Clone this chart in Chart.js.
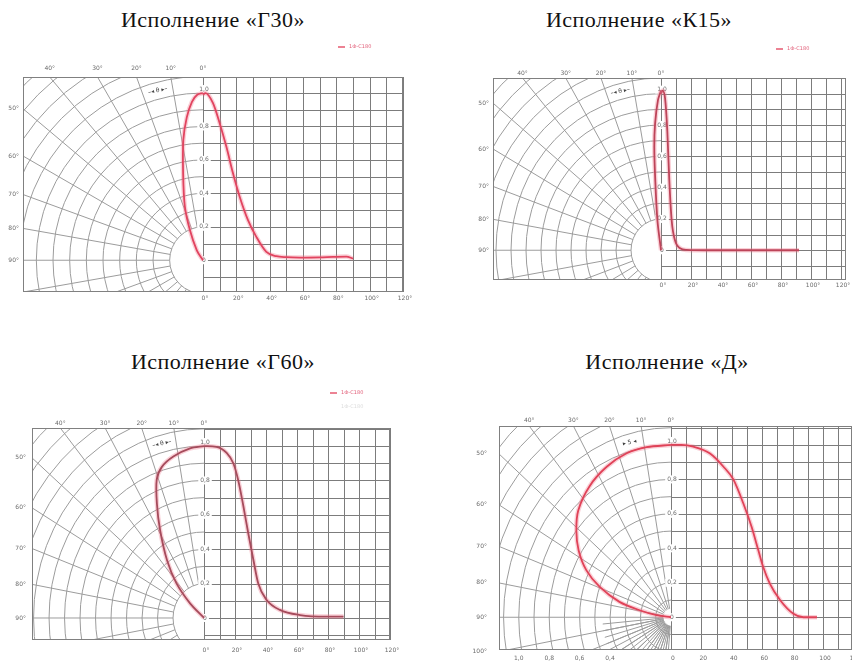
<!DOCTYPE html>
<html>
<head>
<meta charset="utf-8">
<script src="https://cdn.jsdelivr.net/npm/chart.js@4.4.1/dist/chart.umd.min.js"></script>
<style>
  body { margin: 0; background: #fff; width: 852px; height: 663px; overflow: hidden; position: relative; }
  .title { position: absolute; font-family: "Liberation Serif", "Times New Roman", serif; font-size: 22px; letter-spacing: 0.5px; color: #111; transform: translateX(-50%); white-space: nowrap; }
  canvas { position: absolute; }
</style>
</head>
<body>
<div class="title" style="left:213px; top:7px">Исполнение «Г30»</div>
<div class="title" style="left:639px; top:7px">Исполнение «К15»</div>
<div class="title" style="left:223px; top:349px">Исполнение «Г60»</div>
<div class="title" style="left:667px; top:349px">Исполнение «Д»</div>

<canvas id="g30" width="426" height="290" style="left:0; top:35px"></canvas>
<canvas id="k15" width="426" height="290" style="left:426px; top:35px"></canvas>
<canvas id="g60" width="426" height="278" style="left:0; top:385px"></canvas>
<canvas id="d" width="426" height="278" style="left:426px; top:385px"></canvas>

<script>
// --- values (angle in degrees, relative intensity) ---
// Г30
const g30PolarAngles = [0, 2, 4, 6.5, 9.3, 13, 18.7, 23.4, 32, 45];
const g30PolarValues = [1.0, 0.99, 0.95, 0.86, 0.73, 0.53, 0.34, 0.20, 0.07, 0];
const g30Angles = [0, 1.5, 6, 10, 14, 18, 22, 27, 32, 38, 44, 50, 58, 70, 78, 86, 90];
const g30Values = [0.99, 1.0, 0.94, 0.82, 0.68, 0.52, 0.38, 0.24, 0.14, 0.05, 0.024, 0.018, 0.016, 0.017, 0.02, 0.022, 0.01];
// К15
const k15PolarAngles = [0, 1.2, 2.8, 3.9, 4.9, 7.2, 12];
const k15PolarValues = [1.02, 0.96, 0.81, 0.66, 0.45, 0.19, 0];
const k15Angles = [0, 1, 2.7, 4.2, 5.5, 7.1, 9.3, 12.7, 17, 30, 92];
const k15Values = [1.0, 1.02, 0.97, 0.76, 0.45, 0.19, 0.064, 0.013, 0.002, 0, 0];
// Г60
const g60PolarAngles = [0, 5.2, 11.9, 17.2, 20.8, 24.6, 29, 35.5, 41.4, 46.7, 52];
const g60PolarValues = [1.0, 0.99, 0.96, 0.92, 0.86, 0.73, 0.585, 0.41, 0.27, 0.124, 0];
const g60Angles = [0, 8, 14.6, 18.9, 22.1, 25.4, 28.6, 31.8, 35, 40.4, 49, 62, 79, 90];
const g60Values = [1.0, 0.995, 0.96, 0.90, 0.80, 0.65, 0.49, 0.34, 0.20, 0.105, 0.047, 0.017, 0.008, 0.008];
// Д
const dPolarAngles = [0, 9.2, 17, 25.8, 35.1, 44.4, 51, 57.4, 63.8, 69.4, 75.2, 78.8, 82.7, 88];
const dPolarValues = [1.0, 1.0, 0.995, 0.97, 0.93, 0.87, 0.80, 0.72, 0.62, 0.50, 0.35, 0.21, 0.095, 0];
const dAngles = [0, 7, 14.7, 25.7, 34.4, 41, 47.6, 53, 57.4, 60.7, 65, 71.7, 80.5, 87, 96];
const dValues = [1.0, 1.0, 0.99, 0.95, 0.875, 0.80, 0.66, 0.525, 0.39, 0.29, 0.195, 0.10, 0.02, 0, 0];

// tick labels
const topRayAngles = [0, 10, 20, 30, 40];
const leftRayAngles = [50, 60, 70, 80, 90];
const leftRayAnglesD = [50, 60, 70, 80, 90, 100];
const intensityTicks = [1.0, 0.8, 0.6, 0.4, 0.2, 0];
const angleTicks = [0, 20, 40, 60, 80, 100, 120];
const radiusTicksD = [1.0, 0.8, 0.6, 0.4];
const legendLabel = '1Ф-С180';

const rad = a => a * Math.PI / 180;
const commaNum = v => v === 0 ? '0' : v.toFixed(1).replace('.', ',');

// polar point -> same linear scales (0.1 of intensity <-> 10 units on x)
function polarPoints(angles, values) {
  return angles.map((a, i) => ({ x: -values[i] * Math.sin(rad(a)) * 100, y: values[i] * Math.cos(rad(a)) }));
}
function linePoints(angles, values) {
  return angles.map((a, i) => ({ x: a, y: values[i] }));
}

const photoGrid = {
  id: 'photoGrid',
  beforeDatasetsDraw(chart, args, o) {
    const { ctx, chartArea: a, scales: { x, y } } = chart;
    const cx = x.getPixelForValue(0), cy = y.getPixelForValue(0);
    const kx = x.getPixelForValue(100) - cx;
    const ky = cy - y.getPixelForValue(1);
    ctx.save();
    ctx.lineWidth = 1;

    // cartesian part
    ctx.strokeStyle = '#7c7c7c';
    ctx.beginPath();
    for (let v = 0; v <= x.max; v += 10) {
      const px = Math.round(x.getPixelForValue(v)) + 0.5;
      ctx.moveTo(px, a.top); ctx.lineTo(px, a.bottom);
    }
    for (let i = Math.ceil(y.min * 10); i <= Math.floor(y.max * 10); i++) {
      const py = Math.round(y.getPixelForValue(i / 10)) + 0.5;
      ctx.moveTo(cx, py); ctx.lineTo(a.right, py);
    }
    ctx.stroke();

    // polar part
    ctx.save();
    ctx.beginPath();
    ctx.rect(a.left, a.top, cx - a.left, a.bottom - a.top);
    ctx.clip();
    ctx.strokeStyle = '#9c9c9c';
    ctx.beginPath();
    for (let i = Math.round(o.r0 * 10); i <= 17; i++) {
      const r = i / 10;
      ctx.moveTo(cx, cy + r * ky);
      ctx.ellipse(cx, cy, r * kx, r * ky, 0, Math.PI / 2, Math.PI * 1.5);
    }
    for (let t = 10; t < 180; t += 10) {
      const s = Math.sin(rad(t)), c = Math.cos(rad(t));
      ctx.moveTo(cx - s * o.r0 * kx, cy - c * o.r0 * ky);
      ctx.lineTo(cx - s * 2 * kx, cy - c * 2 * ky);
    }
    if (o.fan) {
      for (let t = 95; t < 180; t += 5) {
        const s = Math.sin(rad(t)), c = Math.cos(rad(t));
        ctx.moveTo(cx - s * 0.05 * kx, cy - c * 0.05 * ky);
        ctx.lineTo(cx - s * 0.45 * kx, cy - c * 0.45 * ky);
      }
    }
    ctx.stroke();
    ctx.restore();

    // frame
    ctx.strokeStyle = '#808080';
    ctx.strokeRect(Math.round(a.left) + 0.5, Math.round(a.top) + 0.5, Math.round(a.width) - 1, Math.round(a.height) - 1);

    // labels
    ctx.font = '6px "DejaVu Sans", sans-serif';
    ctx.fillStyle = '#6a6a6a';
    ctx.textBaseline = 'middle';
    ctx.textAlign = 'center';
    topRayAngles.forEach(t => {
      const s = Math.sin(rad(t)), c = Math.cos(rad(t));
      const k = (cy - a.top) / (c * ky);
      ctx.fillText(t + '°', cx - s * kx * k, a.top - o.topGap);
    });
    ctx.textAlign = 'right';
    o.leftAngles.forEach(t => {
      const s = Math.sin(rad(t)), c = Math.cos(rad(t));
      const k = (cx - a.left) / (s * kx);
      ctx.fillText(t + '°', a.left - o.leftGap, cy - c * ky * k);
    });
    ctx.textAlign = 'center';
    angleTicks.forEach(v => {
      ctx.fillText(v + o.unit, x.getPixelForValue(v) + 2, a.bottom + o.bottomGap);
    });
    if (o.radiusTicks) {
      o.radiusTicks.forEach(r => ctx.fillText(commaNum(r), x.getPixelForValue(-r * 100), a.bottom + o.bottomGap));
    }
    intensityTicks.forEach(v => {
      const py = y.getPixelForValue(v) - (v === 1 ? 4 : 0);
      const txt = commaNum(v);
      const w = ctx.measureText(txt).width + 4;
      ctx.fillStyle = '#fff';
      ctx.fillRect(cx - w / 2 + 1, py - 4, w, 8);
      ctx.fillStyle = '#6a6a6a';
      ctx.fillText(txt, cx + 1, py);
    });
    // θ marker
    const ts = Math.sin(rad(15)), tc = Math.cos(rad(15));
    ctx.save();
    ctx.translate(cx - ts * 1.05 * kx, cy - tc * 1.05 * ky);
    ctx.rotate(-rad(12));
    ctx.fillStyle = '#444';
    ctx.fillText(o.marker, 0, 0);
    ctx.restore();

    // legend
    if (o.legend) {
      const [lx, ly] = o.legend;
      ctx.strokeStyle = '#e0304c';
      ctx.lineWidth = 1.2;
      ctx.beginPath(); ctx.moveTo(lx, ly); ctx.lineTo(lx + 7, ly); ctx.stroke();
      ctx.textAlign = 'left';
      ctx.font = '5px "DejaVu Sans", sans-serif';
      ctx.fillStyle = '#e2607a';
      ctx.fillText(legendLabel, lx + 11, ly);
      if (o.legend2) {
        ctx.fillStyle = '#dcdcdc';
        ctx.fillText(legendLabel, lx + 11, ly + 14);
      }
    }
    ctx.restore();
  }
};

function makeChart(id, p) {
  return new Chart(document.getElementById(id), {
    type: 'scatter',
    data: {
      datasets: [
        { data: polarPoints(p.polarAngles, p.polarValues), showLine: true, tension: 0.3, borderColor: 'rgba(240,120,140,0.35)', borderWidth: 4.5, pointRadius: 0 },
        { data: linePoints(p.angles, p.values), showLine: true, cubicInterpolationMode: 'monotone', borderColor: 'rgba(240,120,140,0.35)', borderWidth: 4.5, pointRadius: 0 },
        { data: polarPoints(p.polarAngles, p.polarValues), showLine: true, tension: 0.3, borderColor: p.color, borderWidth: 1.8, pointRadius: 0 },
        { data: linePoints(p.angles, p.values), showLine: true, cubicInterpolationMode: 'monotone', borderColor: p.color, borderWidth: 1.8, pointRadius: 0 }
      ]
    },
    options: {
      responsive: false,
      animation: false,
      events: [],
      layout: { padding: p.padding },
      scales: {
        x: { type: 'linear', min: p.xRange[0], max: p.xRange[1], display: false },
        y: { type: 'linear', min: p.yRange[0], max: p.yRange[1], display: false }
      },
      plugins: { legend: { display: false }, tooltip: { enabled: false }, photoGrid: p.grid }
    },
    plugins: [photoGrid]
  });
}

makeChart('g30', {
  polarAngles: g30PolarAngles, polarValues: g30PolarValues, angles: g30Angles, values: g30Values,
  color: '#d92848',
  padding: { left: 23, top: 42, right: 23, bottom: 33 },
  xRange: [-108, 120], yRange: [-0.19, 1.096],
  grid: { r0: 0.2, leftAngles: leftRayAngles, topGap: 9, leftGap: 4, bottomGap: 6, unit: '°', marker: '–◂ θ ▸–', legend: [338, 12] }
});
makeChart('k15', {
  polarAngles: k15PolarAngles, polarValues: k15PolarValues, angles: k15Angles, values: k15Values,
  color: '#a2283e',
  padding: { left: 67, top: 43, right: 6, bottom: 45 },
  xRange: [-112, 123.3], yRange: [-0.19, 1.10],
  grid: { r0: 0.2, leftAngles: leftRayAngles, topGap: 5, leftGap: 4, bottomGap: 5, unit: '°', marker: '–◂ θ ▸–', legend: [350, 14] }
});
makeChart('g60', {
  polarAngles: g60PolarAngles, polarValues: g60PolarValues, angles: g60Angles, values: g60Values,
  color: '#7e3442',
  padding: { left: 32, top: 43, right: 36, bottom: 23 },
  xRange: [-111, 120], yRange: [-0.128, 1.105],
  grid: { r0: 0.2, leftAngles: leftRayAngles, topGap: 5, leftGap: 6, bottomGap: 10, unit: '°', marker: '–◂ θ ▸–', legend: [330, 8], legend2: true }
});
makeChart('d', {
  polarAngles: dPolarAngles, polarValues: dPolarValues, angles: dAngles, values: dValues,
  color: '#d8263c',
  padding: { left: 73, top: 41, right: 0, bottom: 13 },
  xRange: [-113, 119], yRange: [-0.19, 1.11],
  grid: { r0: 0.05, fan: true, leftAngles: leftRayAnglesD, radiusTicks: radiusTicksD, topGap: 6, leftGap: 12, bottomGap: 8, unit: '', marker: '▸ 5 ◂' }
});
</script>
</body>
</html>
